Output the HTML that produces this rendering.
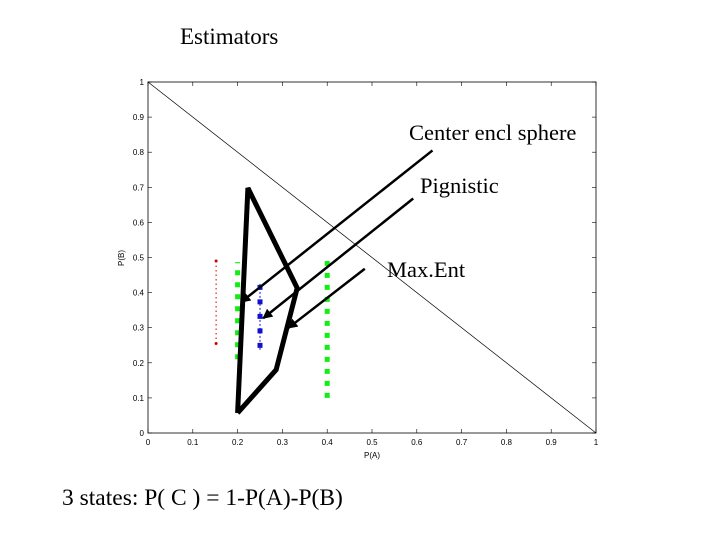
<!DOCTYPE html>
<html><head><meta charset="utf-8"><style>body{margin:0;background:#fff}svg{display:block}</style></head><body>
<svg width="720" height="540" xmlns="http://www.w3.org/2000/svg" font-family="Liberation Sans, sans-serif">
<defs><marker id="ah" viewBox="0 0 10 10" refX="9" refY="5" markerWidth="4" markerHeight="4" orient="auto"><path d="M0,0L10,5L0,10z" fill="#000"/></marker></defs>
<text x="180" y="44" font-family="Liberation Serif, serif" font-size="23">Estimators</text>
<rect x="148" y="82" width="448" height="351" fill="#fff" stroke="#000" stroke-width="0.8"/>
<g id="ticks" font-size="8"></g>
<g id="marks"></g>
<text x="372" y="458" font-size="8" text-anchor="middle">P(A)</text>
<text x="124" y="258" font-size="8" text-anchor="middle" transform="rotate(-90 124 258)">P(B)</text>
<text x="409" y="140" font-family="Liberation Serif, serif" font-size="22.5">Center encl sphere</text>
<text x="420" y="193" font-family="Liberation Serif, serif" font-size="22.5">Pignistic</text>
<text x="387" y="277" font-family="Liberation Serif, serif" font-size="22.5">Max.Ent</text>
<text x="62" y="505" font-family="Liberation Serif, serif" font-size="23.5">3 states: P( C ) = 1-P(A)-P(B)</text>
<script>
const ticks=[0,0.1,0.2,0.3,0.4,0.5,0.6,0.7,0.8,0.9,1];
const tickLabels=["0","0.1","0.2","0.3","0.4","0.5","0.6","0.7","0.8","0.9","1"];
const polyA=[0.2,0.223,0.333,0.286,0.2];
const polyB=[0.057,0.698,0.413,0.18,0.057];
const redA=0.152, redB=[0.255,0.49];
const greenLA=0.2, greenLB=[0.21,0.487];
const greenRA=0.4, greenRB=[0.1,0.49];
const blueA=0.25, blueB=[0.237,0.425];
const arrowFrom=[[0.635,0.805],[0.592,0.668],[0.484,0.468]];
const arrowTo=[[0.208,0.373],[0.257,0.327],[0.313,0.299]];
const X=v=>148+448*v, Y=v=>433-351*v;
const NS="http://www.w3.org/2000/svg";
function mk(t,a,p){const e=document.createElementNS(NS,t);for(const k in a)e.setAttribute(k,a[k]);p.appendChild(e);return e;}
const tg=document.getElementById('ticks'), mg=document.getElementById('marks');
ticks.forEach((t,i)=>{
 mk('line',{x1:X(t),x2:X(t),y1:433,y2:429,stroke:'#000','stroke-width':0.6},tg);
 mk('line',{x1:X(t),x2:X(t),y1:82,y2:86,stroke:'#000','stroke-width':0.6},tg);
 mk('line',{x1:148,x2:152,y1:Y(t),y2:Y(t),stroke:'#000','stroke-width':0.6},tg);
 mk('line',{x1:596,x2:592,y1:Y(t),y2:Y(t),stroke:'#000','stroke-width':0.6},tg);
 const a=mk('text',{x:X(t),y:445,'text-anchor':'middle'},tg);a.textContent=tickLabels[i];
 const b=mk('text',{x:144,y:Y(t)+3,'text-anchor':'end'},tg);b.textContent=tickLabels[i];
});
const diag=mk('line',{x1:X(0),y1:Y(1),x2:X(1),y2:Y(0),stroke:'#000','stroke-width':0.7},mg);


const r=mk('line',{x1:X(redA),x2:X(redA),y1:Y(redB[0]),y2:Y(redB[1]),stroke:'#c00','stroke-width':1,'stroke-dasharray':'1.5,3'},mg);


[redB[0],redB[1]].forEach(b=>mk('circle',{cx:X(redA),cy:Y(b),r:1.5,fill:'#c00'},mg));
const g1=mk('line',{x1:X(greenLA),x2:X(greenLA),y1:Y(greenLB[0]),y2:Y(greenLB[1]),stroke:'#1e1','stroke-width':5,'stroke-dasharray':'5,7'},mg);


const g2=mk('line',{x1:X(greenRA),x2:X(greenRA),y1:Y(greenRB[0]),y2:Y(greenRB[1]),stroke:'#1e1','stroke-width':5,'stroke-dasharray':'5,7'},mg);


const bl=mk('line',{x1:X(blueA),x2:X(blueA),y1:Y(blueB[0]),y2:Y(blueB[1]),stroke:'#11c','stroke-width':1,'stroke-dasharray':'2,2'},mg);


const bs=mk('line',{x1:X(blueA),x2:X(blueA),y1:Y(blueB[0])-2,y2:Y(blueB[1]),stroke:'#11c','stroke-width':5,'stroke-dasharray':'5,9.5'},mg);


const poly=mk('polyline',{points:polyA.map((a,i)=>X(a)+','+Y(polyB[i])).join(' '),fill:'none',stroke:'#000','stroke-width':5,'stroke-linejoin':'miter'},mg);


arrowFrom.forEach((f,i)=>{
 const l=mk('line',{x1:X(f[0]),y1:Y(f[1]),x2:X(arrowTo[i][0]),y2:Y(arrowTo[i][1]),stroke:'#000','stroke-width':2.5,'marker-end':'url(#ah)'},mg);
 
 
});
</script>
</svg>
</body></html>
